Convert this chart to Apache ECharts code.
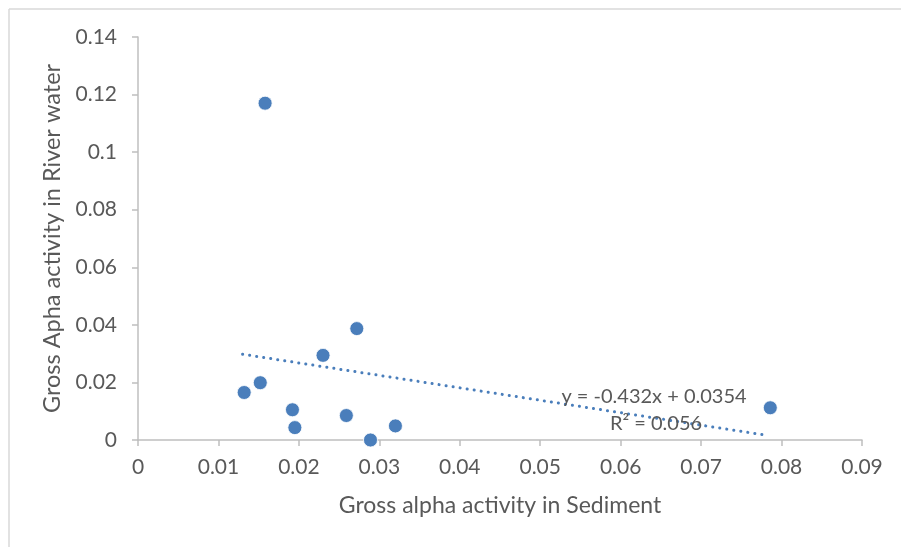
<!DOCTYPE html>
<html>
<head>
<meta charset="utf-8">
<script src="https://cdn.jsdelivr.net/npm/echarts@6/dist/echarts.min.js"></script>
<style>
  html, body { margin: 0; padding: 0; background: #fff; }
  #main { width: 901px; height: 547px; }
</style>
</head>
<body>
<div id="main"></div>
<script>
// sediment (x) vs river water (y)
var sediment = [0.0158, 0.0132, 0.0152, 0.0192, 0.0195, 0.0230, 0.0272, 0.0259, 0.0289, 0.0320, 0.0786];
var riverWater = [0.117, 0.0165, 0.0199, 0.0105, 0.0043, 0.0294, 0.0387, 0.0085, 0.0000, 0.0049, 0.0112];
// ends of the linear trendline as drawn
var trendX = [0.0130, 0.0780];
var trendY = [0.0298, 0.0017];
var trendLabel = 'y = -0.432x + 0.0354';
var r2Label = 'R² = 0.056';

var points = [];
for (var i = 0; i < sediment.length; i++) {
    points.push([sediment[i], riverWater[i]]);
}
var trend = [];
for (var j = 0; j < trendX.length; j++) {
    trend.push([trendX[j], trendY[j]]);
}

var font = 'Lato, "Open Sans", sans-serif';
var grey = '#595959';
var chart = echarts.init(document.getElementById('main'));
var option = {
    animation: false,
    textStyle: { fontFamily: font },
    grid: { left: 138, top: 37, right: 39, bottom: 107 },
    xAxis: {
        type: 'value',
        min: 0, max: 0.09, interval: 0.01,
        name: 'Gross alpha activity in Sediment',
        nameLocation: 'middle',
        nameGap: 54,
        nameTextStyle: { color: grey, fontSize: 23, fontFamily: font },
        axisLine: { lineStyle: { color: '#bfbfbf', width: 1.5 } },
        axisTick: { show: true, length: 6, lineStyle: { color: '#bfbfbf', width: 1.5 } },
        axisLabel: { color: grey, fontSize: 21, margin: 17 },
        splitLine: { show: false }
    },
    yAxis: {
        type: 'value',
        min: 0, max: 0.14, interval: 0.02,
        name: 'Gross Apha activity in River water',
        nameLocation: 'middle',
        nameGap: 69,
        nameTextStyle: { color: grey, fontSize: 23.5, fontFamily: font },
        axisLine: { show: true, lineStyle: { color: '#bfbfbf', width: 1.5 } },
        axisTick: { show: true, length: 6, lineStyle: { color: '#bfbfbf', width: 1.5 } },
        axisLabel: { color: grey, fontSize: 21, margin: 21 },
        splitLine: { show: false }
    },
    graphic: [
        { type: 'line', shape: { x1: 9, y1: 9, x2: 901, y2: 9 }, style: { stroke: '#d9d9d9', lineWidth: 1.5 } },
        { type: 'line', shape: { x1: 9, y1: 9, x2: 9, y2: 547 }, style: { stroke: '#d9d9d9', lineWidth: 1.5 } },
        { type: 'text', x: 654, y: 397, style: { text: trendLabel, fill: grey, font: '20px ' + font, align: 'center', verticalAlign: 'middle' }, z: 10 },
        { type: 'text', x: 656, y: 424, style: { text: r2Label, fill: grey, font: '20px ' + font, align: 'center', verticalAlign: 'middle' }, z: 10 }
    ],
    series: [
        {
            type: 'scatter',
            data: points,
            symbolSize: 14,
            itemStyle: { color: '#4a7ebb', borderColor: '#ffffff', borderWidth: 0.8, opacity: 1 },
            z: 3
        },
        {
            type: 'line',
            data: trend,
            symbol: 'none',
            lineStyle: { color: '#4a7ebb', width: 3, type: [0.1, 7], cap: 'round' },
            z: 2
        }
    ]
};
chart.setOption(option);
</script>
</body>
</html>
